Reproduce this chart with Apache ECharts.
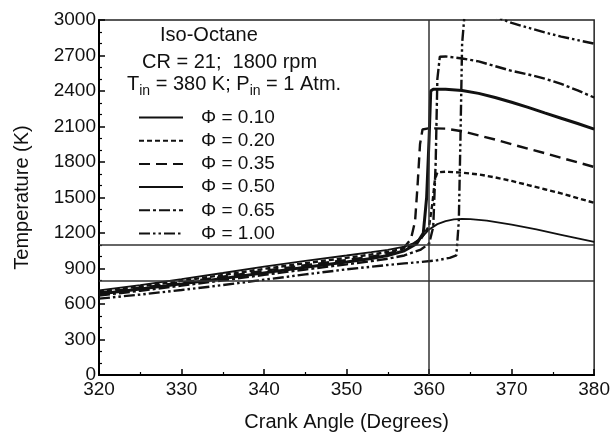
<!DOCTYPE html>
<html>
<head>
<meta charset="utf-8">
<script src="https://cdn.jsdelivr.net/npm/echarts@6/dist/echarts.min.js"></script>
<style>html,body{margin:0;padding:0;background:#fff;}#c{width:613px;height:437px;}</style>
</head>
<body>
<div id="c"></div>
<script>
var FONT = '"Liberation Sans", Arial, sans-serif';
var seriesNames = ['\u03A6 = 0.10', '\u03A6 = 0.20', '\u03A6 = 0.35', '\u03A6 = 0.50', '\u03A6 = 0.65', '\u03A6 = 1.00'];
var xTicks = [320, 330, 340, 350, 360, 370, 380];
var yTicks = [0, 300, 600, 900, 1200, 1500, 1800, 2100, 2400, 2700, 3000];
var refTemps = [1100, 800];
var refAngle = 360;

var phi010 = [[320,715],[325,760],[330,810],[335,862],[340,915],[345,965],[350,1010],[353,1038],[355,1058],[357,1085],[358,1110],[359,1155],[360,1230],[361,1275],[362,1300],[363,1315],[364,1320],[365,1318],[367,1305],[370,1270],[373,1230],[376,1185],[378,1155],[380,1125]];
var phi020 = [[320,705],[325,748],[330,795],[335,845],[340,897],[345,945],[350,990],[353,1018],[355,1040],[357,1070],[358,1100],[359,1150],[360,1260],[360.4,1450],[360.7,1650],[361,1712],[362,1718],[364,1710],[366,1695],[368,1670],[370,1640],[372,1605],[374,1570],[376,1535],[378,1495],[380,1455]];
var phi035 = [[320,695],[325,737],[330,782],[335,830],[340,880],[345,928],[350,972],[353,1000],[355,1025],[356,1045],[357,1080],[357.8,1150],[358.3,1300],[358.6,1600],[358.9,1950],[359.2,2075],[360,2085],[362,2082],[364,2060],[366,2025],[368,1990],[370,1950],[372,1912],[374,1875],[376,1835],[378,1797],[380,1758]];
var phi050 = [[320,685],[325,726],[330,770],[335,815],[340,863],[345,910],[350,955],[353,985],[355,1010],[357,1050],[358.5,1110],[359.3,1200],[359.7,1500],[360,2000],[360.2,2400],[360.5,2415],[362,2415],[364,2405],[366,2380],[368,2345],[370,2305],[372,2262],[374,2215],[376,2170],[378,2125],[380,2078]];
var phi065 = [[320,672],[325,712],[330,755],[335,800],[340,846],[345,892],[350,935],[353,962],[355,983],[357,1010],[359,1060],[360,1110],[360.5,1250],[360.8,1800],[361,2500],[361.3,2690],[362,2692],[364,2675],[366,2650],[368,2610],[370,2570],[372,2540],[374,2505],[376,2460],[378,2405],[380,2345]];
var phi100 = [[320,645],[325,680],[330,718],[335,760],[340,805],[345,850],[350,893],[353,915],[355,930],[357,943],[359,955],[361,970],[362.5,990],[363.3,1010],[363.6,1300],[363.8,2000],[364,2800],[364.3,3050],[366,3080],[368,3030],[370,2975],[372,2935],[374,2895],[376,2860],[378,2830],[380,2800]];

var seriesData = [phi010, phi020, phi035, phi050, phi065, phi100];
var lineStyles = [
  {width: 1.8, type: 'solid'},
  {width: 2.4, type: [5, 3]},
  {width: 2.4, type: [11, 6]},
  {width: 3, type: 'solid'},
  {width: 2.4, type: [11, 3, 3, 3]},
  {width: 2.4, type: [11, 3, 2.5, 3, 2.5, 3]}
];

var series = seriesData.map(function (d, i) {
  return {
    name: seriesNames[i], type: 'line', data: d, symbol: 'none', smooth: false,
    lineStyle: Object.assign({color: '#111'}, lineStyles[i]),
    itemStyle: {color: '#111'}, z: 3
  };
});
series[0].markLine = {
  silent: true, symbol: 'none', label: {show: false}, animation: false,
  lineStyle: {color: '#333', width: 1.5, type: 'solid'},
  data: refTemps.map(function (t) { return {yAxis: t}; }).concat([{xAxis: refAngle}])
};

var chart = echarts.init(document.getElementById('c'), null, {renderer: 'canvas'});
chart.setOption({
  animation: false,
  backgroundColor: '#fff',
  grid: {left: 99, right: 17, top: 20, bottom: 60, show: true, borderColor: '#222', borderWidth: 1.5},
  xAxis: {
    type: 'value', min: xTicks[0], max: xTicks[xTicks.length - 1], interval: 10,
    axisLine: {show: true, lineStyle: {color: '#000', width: 2}},
    axisTick: {show: true, inside: true, length: 6, lineStyle: {color: '#000', width: 1.5}},
    minorTick: {show: true, splitNumber: 2, length: 3, lineStyle: {color: '#000', width: 1.2}},
    splitLine: {show: false},
    axisLabel: {color: '#111', fontFamily: FONT, fontSize: 19, margin: 5, formatter: function (v) { return String(v); }},
    name: 'Crank Angle (Degrees)', nameLocation: 'middle', nameGap: 37,
    nameTextStyle: {color: '#111', fontFamily: FONT, fontSize: 20}
  },
  yAxis: {
    type: 'value', min: yTicks[0], max: yTicks[yTicks.length - 1], interval: 300,
    axisLine: {show: true, lineStyle: {color: '#000', width: 2}},
    axisTick: {show: true, inside: true, length: 6, lineStyle: {color: '#000', width: 1.5}},
    minorTick: {show: true, splitNumber: 3, length: 3, lineStyle: {color: '#000', width: 1.2}},
    splitLine: {show: false},
    axisLabel: {color: '#111', fontFamily: FONT, fontSize: 19, margin: 3, formatter: function (v) { return String(v); }},
    name: 'Temperature (K)', nameLocation: 'middle', nameGap: 67, nameRotate: 90,
    nameTextStyle: {color: '#111', fontFamily: FONT, fontSize: 20}
  },
  legend: {
    data: seriesNames, orient: 'vertical', left: 138, top: 108, padding: 0,
    itemWidth: 44, itemHeight: 14, itemGap: 4.2,
    itemStyle: {opacity: 0},
    textStyle: {color: '#111', fontFamily: FONT, fontSize: 19, lineHeight: 19, padding: [0, 0, 0, 13]},
    selectedMode: false
  },
  graphic: [
    {type: 'text', left: 160, top: 25, style: {text: 'Iso-Octane', fill: '#111', font: '20px ' + FONT}},
    {type: 'text', left: 142, top: 52, style: {text: 'CR = 21;  1800 rpm', fill: '#111', font: '20px ' + FONT}},
    {type: 'text', left: 127, top: 74, style: {
      text: '{n|T}{s|in}{n| = 380 K; P}{s|in}{n| = 1 Atm.}',
      rich: {
        n: {fontSize: 20, fontFamily: FONT, fill: '#111', lineHeight: 28, verticalAlign: 'middle'},
        s: {fontSize: 14, fontFamily: FONT, fill: '#111', lineHeight: 28, verticalAlign: 'bottom'}
      }
    }}
  ],
  series: series
});
</script>
</body>
</html>
